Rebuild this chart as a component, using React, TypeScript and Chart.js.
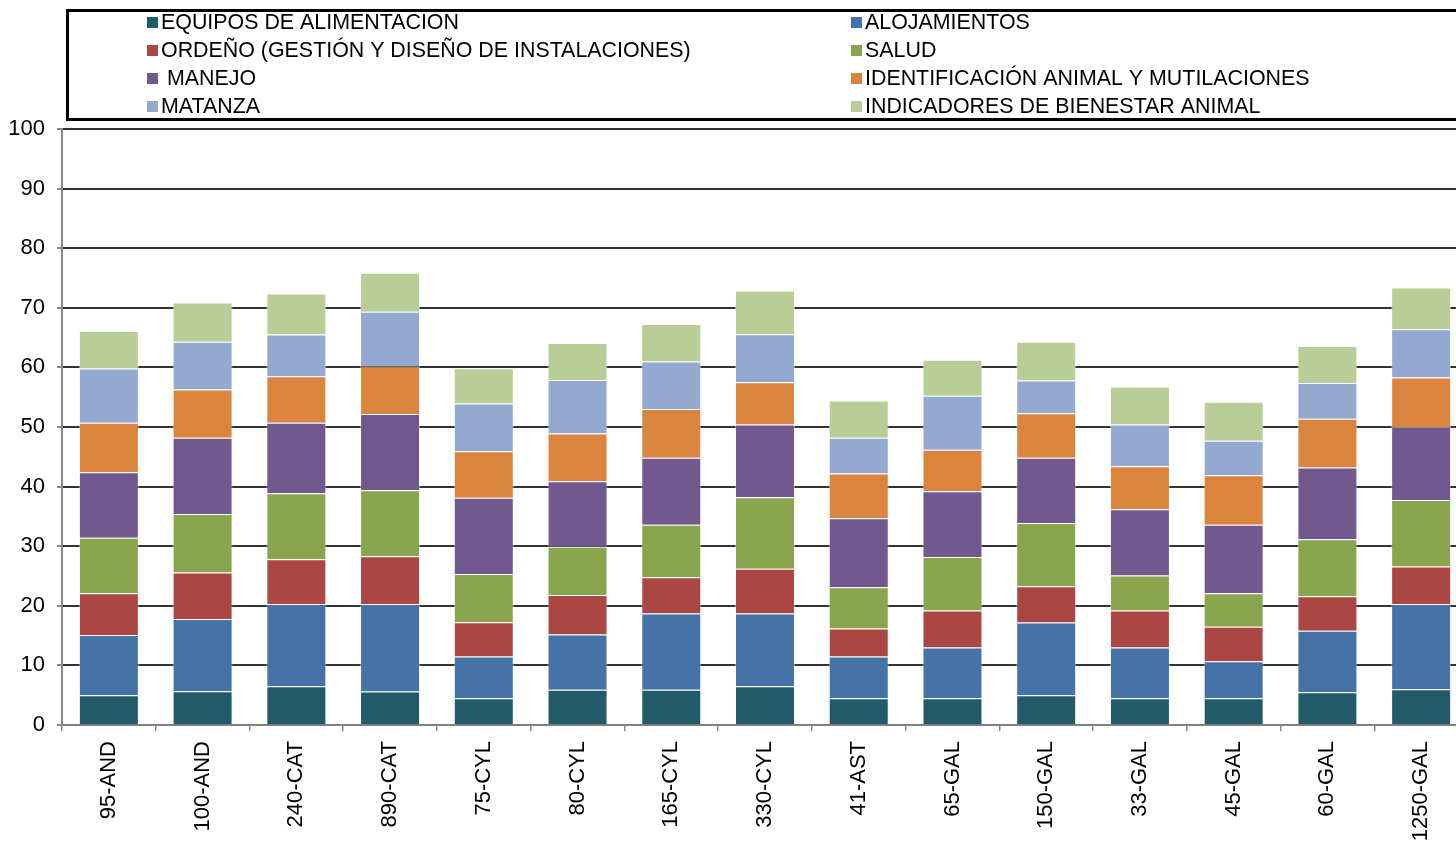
import React, { useEffect, useRef } from 'react';
import { Chart, registerables } from 'chart.js';
Chart.register(...registerables);

const categories = ['95-AND', '100-AND', '240-CAT', '890-CAT', '75-CYL', '80-CYL', '165-CYL', '330-CYL', '41-AST', '65-GAL', '150-GAL', '33-GAL', '45-GAL', '60-GAL', '1250-GAL'];

const equipos = [5.0, 5.65, 6.5, 5.6, 4.5, 5.9, 5.9, 6.5, 4.5, 4.5, 5.0, 4.5, 4.5, 5.5, 6.0];
const alojamientos = [10.1, 12.15, 13.8, 14.7, 7.0, 9.3, 12.8, 12.2, 7.0, 8.5, 12.2, 8.5, 6.2, 10.3, 14.3];
const ordeno = [7.0, 7.8, 7.5, 8.0, 5.75, 6.6, 6.1, 7.5, 4.7, 6.2, 6.1, 6.2, 5.8, 5.8, 6.3];
const salud = [9.3, 9.8, 11.1, 11.1, 8.1, 8.1, 8.8, 12.0, 6.9, 9.0, 10.6, 5.9, 5.6, 9.55, 11.15];
const manejo = [11.0, 12.8, 11.8, 12.8, 12.8, 11.0, 11.25, 12.2, 11.6, 11.0, 10.95, 11.1, 11.5, 12.05, 12.25];
const identificacion = [8.3, 8.1, 7.8, 8.0, 7.8, 8.0, 8.15, 7.1, 7.5, 7.0, 7.45, 7.2, 8.3, 8.2, 8.3];
const matanza = [9.1, 8.0, 7.0, 9.15, 8.0, 9.0, 8.0, 8.05, 6.0, 9.05, 5.5, 7.0, 5.8, 6.0, 8.1];
const indicadores = [6.3, 6.6, 6.9, 6.55, 5.9, 6.2, 6.3, 7.35, 6.25, 6.05, 6.5, 6.4, 6.55, 6.2, 7.0];

const seriesLabels = [
  'EQUIPOS DE ALIMENTACIÓN',
  'ALOJAMIENTOS',
  'ORDEÑO (GESTIÓN Y DISEÑO DE INSTALACIONES)',
  'SALUD',
  ' MANEJO',
  'IDENTIFICACIÓN ANIMAL Y MUTILACIONES',
  'MATANZA',
  'INDICADORES DE BIENESTAR ANIMAL',
];
const seriesValues = [equipos, alojamientos, ordeno, salud, manejo, identificacion, matanza, indicadores];
const seriesColors = ['#215A69', '#4572A7', '#AA4644', '#89A54E', '#71588F', '#DB843D', '#93A9CF', '#B9CD96'];

const yMin = 0;
const yMax = 100;
const yStep = 10;

const FONT = '"Liberation Sans", Arial, sans-serif';

const boxLegend = {
  id: 'boxLegend',
  afterDraw(chart: any) {
    const ctx = chart.ctx;
    ctx.save();
    ctx.lineWidth = 3;
    ctx.strokeStyle = '#000';
    ctx.strokeRect(67.5, 10.5, 1500, 109);
    ctx.font = `21.4px ${FONT}`;
    ctx.textBaseline = 'middle';
    chart.data.datasets.forEach((ds: any, i: number) => {
      const col = i % 2;
      const row = Math.floor(i / 2);
      const mx = col === 0 ? 147 : 851;
      const cy = 22 + row * 28;
      ctx.fillStyle = ds.backgroundColor;
      ctx.fillRect(mx, cy - 5, 11, 11);
      ctx.fillStyle = '#000';
      ctx.fillText(ds.label, mx + 14, cy + 1);
    });
    ctx.restore();
  },
};

export default function App() {
  const ref = useRef<HTMLCanvasElement>(null);
  useEffect(() => {
    document.body.style.margin = '0';
    document.body.style.overflow = 'hidden';
    const chart = new Chart(ref.current!, {
      type: 'bar',
      data: {
        labels: categories,
        datasets: seriesLabels.map((label, i) => ({
          label,
          data: seriesValues[i],
          backgroundColor: seriesColors[i],
          borderColor: 'rgba(255,255,255,0.45)',
          borderWidth: 1,
          barPercentage: 0.64,
          categoryPercentage: 1,
        })),
      },
      options: {
        responsive: false,
        animation: false,
        layout: { padding: { top: 129, left: 0, right: 0, bottom: 0 } },
        plugins: { legend: { display: false }, tooltip: { enabled: false } },
        scales: {
          x: {
            stacked: true,
            offset: true,
            grid: { display: true, drawOnChartArea: false, drawTicks: true, tickLength: 6, color: '#888', lineWidth: 1.5 },
            border: { display: true, color: '#808080', width: 2 },
            ticks: { minRotation: 90, maxRotation: 90, autoSkip: false, color: '#000', padding: 10, font: { size: 22, family: FONT } },
            afterFit: (s: any) => { s.height = 123; },
          },
          y: {
            stacked: true,
            min: yMin,
            max: yMax,
            ticks: { stepSize: yStep, color: '#000', padding: 12, font: { size: 22, family: FONT } },
            grid: {
              color: (c: any) => (c.tick && c.tick.value === 0 ? 'rgba(0,0,0,0)' : '#333'),
              lineWidth: 2,
              tickColor: '#888',
              tickLength: 5,
            },
            border: { display: true, color: '#888', width: 2 },
            afterFit: (s: any) => { s.width = 62; },
          },
        },
      },
      plugins: [boxLegend],
    });
    return () => chart.destroy();
  }, []);
  return (
    <div style={{ width: 1456, height: 848, overflow: 'hidden', position: 'relative', background: '#fff' }}>
      <canvas ref={ref} width={1468} height={848} style={{ width: 1468, height: 848, display: 'block' }} />
    </div>
  );
}
